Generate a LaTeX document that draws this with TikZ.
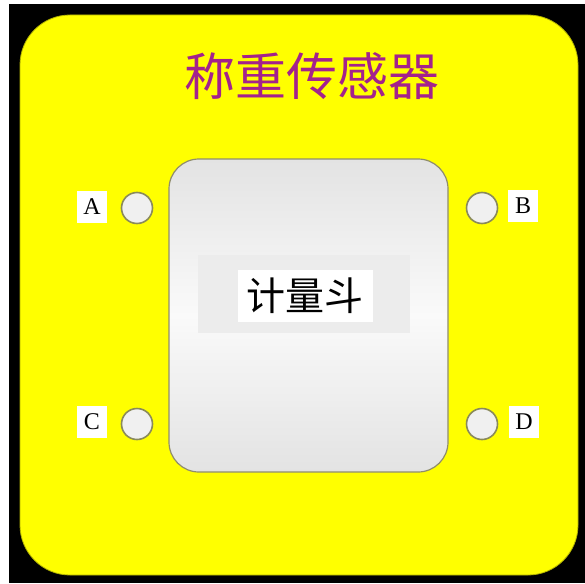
\documentclass[tikz,border=0pt]{standalone}
\usepackage{fontspec}
\newfontfamily\cjk{Noto Sans CJK SC}
\setmainfont{Liberation Serif}
\definecolor{ttl}{HTML}{A3228C}
\definecolor{ring}{HTML}{8A8A5A}
\definecolor{pureyellow}{RGB}{255,255,0}
\tikzset{
  port/.style={circle,draw=ring,line width=1.6pt,fill=gray!12,minimum size=31pt,inner sep=0pt},
  plabel/.style={fill=white,inner sep=0pt,minimum width=30pt,minimum height=32pt,font=\fontsize{24}{24}\selectfont}
}
\begin{document}
\begin{tikzpicture}[x=1pt,y=-1pt]
\useasboundingbox (0,0) rectangle (585,583);
\fill[white] (0,0) rectangle (585,583);
\fill[black] (9,4) rectangle (585,583);
\draw[rounded corners=50pt,fill=pureyellow,draw=pureyellow!70!black,line width=0.8pt] (20,15) rectangle (578,575);
\node[text=ttl,font=\cjk\fontsize{51}{51}\selectfont] (title) at (312,76) {称重传感器};
\draw[rounded corners=30pt,draw=gray!75!olive,line width=1.2pt,top color=gray!22,bottom color=gray!22,middle color=gray!4] (169,159) rectangle (448,472);
\node[fill=gray!15,minimum width=212pt,minimum height=78pt,inner sep=0pt] (hopperbg) at (304,294) {};
\node[fill=white,inner sep=0pt,minimum width=135pt,minimum height=52pt,font=\cjk\fontsize{39}{39}\selectfont] (hopper) at (305,296) {计量斗};
\node[port] (pa) at (137,208) {};
\node[port] (pb) at (482,208) {};
\node[port] (pc) at (137,424) {};
\node[port] (pd) at (482,424) {};
\node[plabel] (la) at (92,207) {A};
\node[plabel] (lb) at (523,206) {B};
\node[plabel] (lc) at (92,422) {C};
\node[plabel] (ld) at (524,422) {D};
\end{tikzpicture}
\end{document}
